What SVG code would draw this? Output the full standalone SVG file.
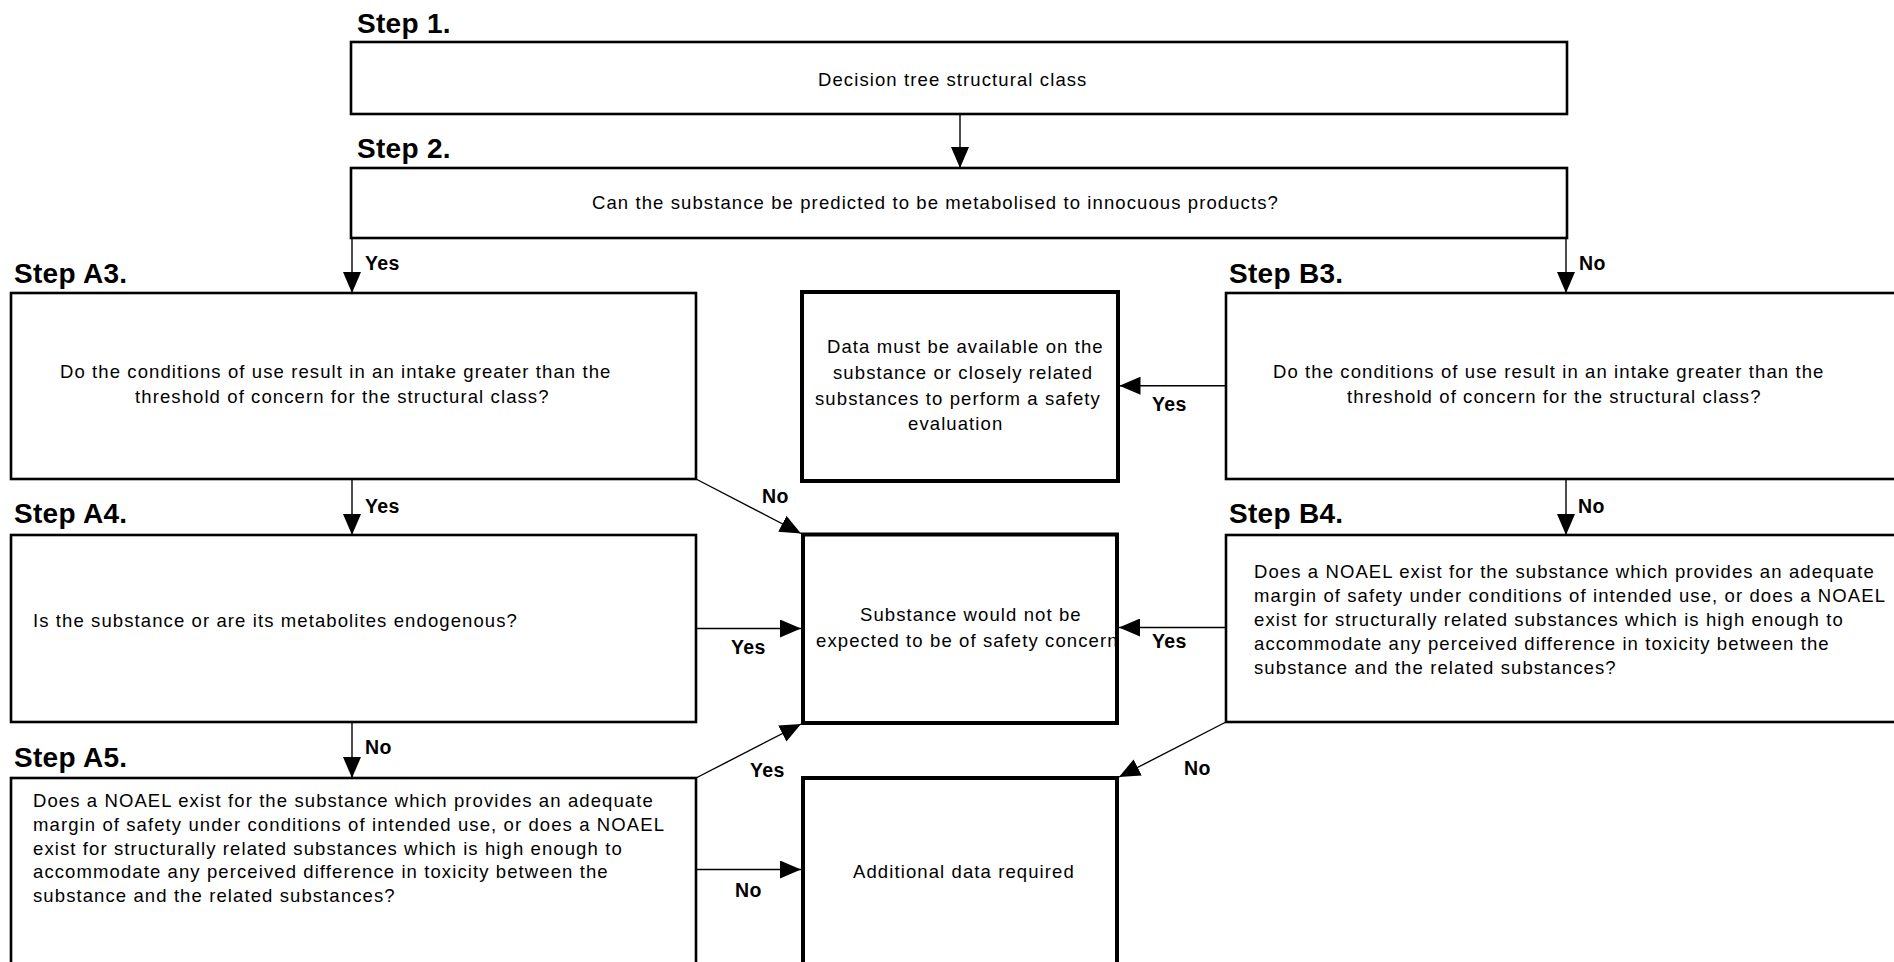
<svg xmlns="http://www.w3.org/2000/svg" width="1894" height="962" viewBox="0 0 1894 962">
<style>
  .q { fill: #fff; stroke: #000; stroke-width: 2.6; }
  .r { fill: #fff; stroke: #000; stroke-width: 4; }
  .t { font-family: "Liberation Sans", Arial, sans-serif; font-size: 18.5px; letter-spacing: 1.1px; fill: #000; }
  .s { font-family: "Liberation Sans", Arial, sans-serif; font-size: 28px; font-weight: bold; letter-spacing: 0.3px; fill: #000; }
  .l { font-family: "Liberation Sans", Arial, sans-serif; font-size: 19.5px; font-weight: bold; letter-spacing: 0.3px; fill: #000; }
  .c { fill: none; stroke: #000; stroke-width: 1.4; marker-end: url(#ah); }
</style>
<defs>
  <marker id="ah" markerUnits="userSpaceOnUse" markerWidth="21" markerHeight="18" refX="21" refY="9" orient="auto" viewBox="0 0 21 18">
    <path d="M0,0 L21,9 L0,18 z" fill="#000"/>
  </marker>
</defs>
<rect width="1894" height="962" fill="#fff"/>

<g id="step1">
  <text class="s" x="357" y="33">Step 1.</text>
  <rect class="q" x="351" y="42" width="1216" height="72"/>
  <text class="t" x="818" y="86">Decision tree structural class</text>
</g>
<g id="step2">
  <text class="s" x="357" y="158">Step 2.</text>
  <rect class="q" x="351" y="168" width="1216" height="70"/>
  <text class="t" x="592" y="209">Can the substance be predicted to be metabolised to innocuous products?</text>
</g>
<g id="stepA3">
  <text class="s" x="14" y="283">Step A3.</text>
  <rect class="q" x="11" y="293" width="685" height="186"/>
  <text class="t" x="60" y="378">Do the conditions of use result in an intake greater than the</text>
  <text class="t" x="135" y="403">threshold of concern for the structural class?</text>
</g>
<g id="stepB3">
  <text class="s" x="1229" y="283">Step B3.</text>
  <rect class="q" x="1226" y="293" width="720" height="186"/>
  <text class="t" x="1273" y="378">Do the conditions of use result in an intake greater than the</text>
  <text class="t" x="1347" y="403">threshold of concern for the structural class?</text>
</g>
<g id="data">
  <rect class="r" x="802" y="292" width="316" height="189"/>
  <text class="t" x="827" y="353">Data must be available on the</text>
  <text class="t" x="833" y="379">substance or closely related</text>
  <text class="t" x="815" y="405">substances to perform a safety</text>
  <text class="t" x="908" y="430">evaluation</text>
</g>
<g id="stepA4">
  <text class="s" x="14" y="523">Step A4.</text>
  <rect class="q" x="11" y="535" width="685" height="187"/>
  <text class="t" x="33" y="627">Is the substance or are its metabolites endogenous?</text>
</g>
<g id="noconcern">
  <rect class="r" x="803" y="534.5" width="314" height="188.5"/>
  <text class="t" x="860" y="620.5">Substance would not be</text>
  <text class="t" x="816" y="646.5">expected to be of safety concern</text>
</g>
<g id="stepB4">
  <text class="s" x="1229" y="523">Step B4.</text>
  <rect class="q" x="1226" y="535" width="720" height="187"/>
  <text class="t" x="1254" y="578">Does a NOAEL exist for the substance which provides an adequate</text>
  <text class="t" x="1254" y="602">margin of safety under conditions of intended use, or does a NOAEL</text>
  <text class="t" x="1254" y="626">exist for structurally related substances which is high enough to</text>
  <text class="t" x="1254" y="650">accommodate any perceived difference in toxicity between the</text>
  <text class="t" x="1254" y="674">substance and the related substances?</text>
</g>
<g id="stepA5">
  <text class="s" x="14" y="767">Step A5.</text>
  <rect class="q" x="11" y="778" width="685" height="240"/>
  <text class="t" x="33" y="807">Does a NOAEL exist for the substance which provides an adequate</text>
  <text class="t" x="33" y="831">margin of safety under conditions of intended use, or does a NOAEL</text>
  <text class="t" x="33" y="854.5">exist for structurally related substances which is high enough to</text>
  <text class="t" x="33" y="878">accommodate any perceived difference in toxicity between the</text>
  <text class="t" x="33" y="902">substance and the related substances?</text>
</g>
<g id="additional">
  <rect class="r" x="803" y="778" width="314" height="240"/>
  <text class="t" x="853" y="878">Additional data required</text>
</g>

<g id="connectors">
  <line class="c" x1="960" y1="114" x2="960" y2="168"/>
  <line class="c" x1="352" y1="238" x2="352" y2="293"/>
  <line class="c" x1="1566" y1="238" x2="1566" y2="293"/>
  <line class="c" x1="1226" y1="385.7" x2="1119.5" y2="385.7"/>
  <line class="c" x1="352" y1="479" x2="352" y2="535"/>
  <line class="c" x1="696" y1="479" x2="801" y2="533.5"/>
  <line class="c" x1="1566" y1="479" x2="1566" y2="535"/>
  <line class="c" x1="696" y1="628.5" x2="801" y2="628.5"/>
  <line class="c" x1="1226" y1="627.5" x2="1119" y2="627.5"/>
  <line class="c" x1="352" y1="722" x2="352" y2="778"/>
  <line class="c" x1="696" y1="778" x2="801" y2="724"/>
  <line class="c" x1="696" y1="869.5" x2="801" y2="869.5"/>
  <line class="c" x1="1226" y1="722" x2="1119" y2="777"/>
  <text class="l" x="365" y="270">Yes</text>
  <text class="l" x="1579" y="270">No</text>
  <text class="l" x="1152" y="411">Yes</text>
  <text class="l" x="365" y="513">Yes</text>
  <text class="l" x="762" y="503">No</text>
  <text class="l" x="1578" y="513">No</text>
  <text class="l" x="731" y="654">Yes</text>
  <text class="l" x="1152" y="648">Yes</text>
  <text class="l" x="365" y="754">No</text>
  <text class="l" x="750" y="777">Yes</text>
  <text class="l" x="735" y="897">No</text>
  <text class="l" x="1184" y="775">No</text>
</g>
</svg>
